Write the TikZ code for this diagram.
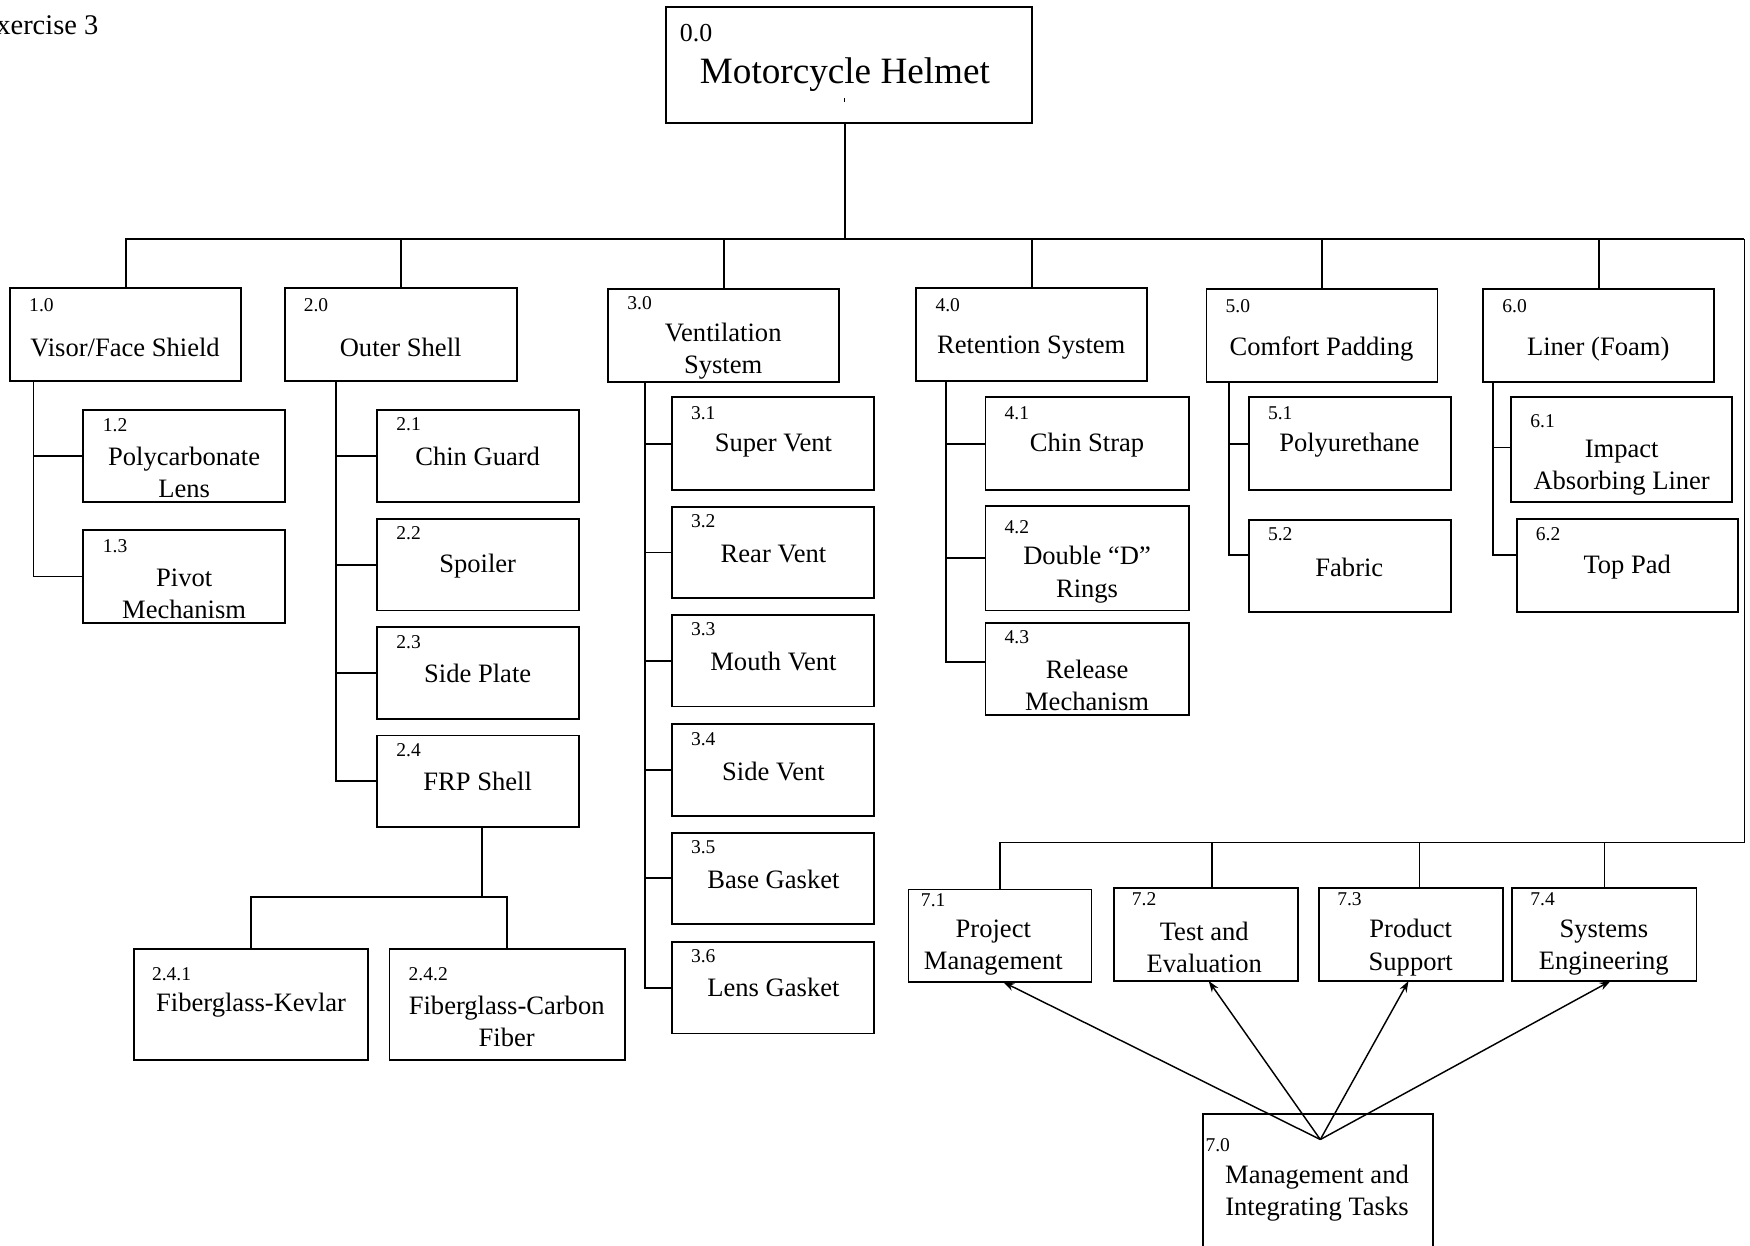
\documentclass[tikz,border=0pt]{standalone}
\usepackage{fontspec}
\setmainfont{Liberation Serif}
\usetikzlibrary{arrows.meta}
\tikzset{
  wb/.style={draw, line width=1.7pt, inner sep=0pt, outer sep=0pt},
  tx/.style={inner sep=0pt, align=center, yshift=-2pt, font=\fontsize{23.8}{29}\selectfont},
  nm/.style={inner sep=0pt, anchor=west, font=\fontsize{17.5}{20}\selectfont},
  ln/.style={line width=1.7pt},
  thinln/.style={line width=1.3pt},
  arr/.style={line width=1.3pt, -{Stealth[length=10pt,width=7pt]}},
}
\newcommand\bx[5]{\node[wb,minimum width={(#4-#2)*1pt},minimum height={(#5-#3)*1pt}] (#1) at ({(#2+#4)/2},{(#3+#5)/2}) {};}
\begin{document}
\begin{tikzpicture}[x=1pt,y=-1pt]
\useasboundingbox (0,0) rectangle (1568,1116);
\node[inner sep=0pt, anchor=west, font=\fontsize{25.5}{30}\selectfont] (ex) at (-19,23) {Exercise 3};
% boxes
\bx{b00}{597}{6}{925}{110}
\bx{b10}{9}{258}{216}{341}
\bx{b20}{255}{258}{463}{341}
\bx{b30}{545}{259}{752}{342}
\bx{b40}{821}{258}{1028}{341}
\bx{b50}{1081}{259}{1288}{342}
\bx{b60}{1329}{259}{1536}{342}
\bx{b12}{74}{367}{255}{450}
\bx{b13}{74}{475}{255}{558}
\bx{b21}{338}{367}{519}{450}
\bx{b22}{338}{465}{519}{547}
\bx{b23}{338}{562}{519}{644}
\bx{b24}{338}{659}{519}{741}
\bx{b241}{120}{850}{330}{950}
\bx{b242}{349}{850}{560}{950}
\bx{b31}{602}{356}{783}{439}
\bx{b32}{602}{454}{783}{536}
\bx{b33}{602}{551}{783}{633}
\bx{b34}{602}{649}{783}{731}
\bx{b35}{602}{746}{783}{828}
\bx{b36}{602}{844}{783}{926}
\bx{b41}{883}{356}{1065}{439}
\bx{b42}{883}{453}{1065}{547}
\bx{b43}{883}{558}{1065}{641}
\bx{b51}{1119}{356}{1300}{439}
\bx{b52}{1119}{466}{1300}{548}
\bx{b61}{1354}{356}{1552}{450}
\bx{b62}{1359}{465}{1557}{548}
\bx{b71}{814}{797}{978}{880}
\bx{b72}{998}{796}{1163}{879}
\bx{b73}{1182}{796}{1347}{879}
\bx{b74}{1355}{796}{1520}{879}
\bx{b70}{1078}{998}{1284}{1124}
% numbers
\node[nm, font=\fontsize{23.2}{26}\selectfont] (n00) at (609,30) {0.0};
\node[nm] (n10) at (26,273) {1.0};
\node[nm] (n20) at (272,273) {2.0};
\node[nm] (n30) at (562,272) {3.0};
\node[nm] (n40) at (838,273) {4.0};
\node[nm] (n50) at (1098,274) {5.0};
\node[nm] (n60) at (1346,274) {6.0};
\node[nm] (n12) at (92,381) {1.2};
\node[nm] (n13) at (92,489) {1.3};
\node[nm] (n21) at (355,380) {2.1};
\node[nm] (n22) at (355,478) {2.2};
\node[nm] (n23) at (355,575) {2.3};
\node[nm] (n24) at (355,672) {2.4};
\node[nm] (n241) at (136,873) {2.4.1};
\node[nm] (n242) at (366,873) {2.4.2};
\node[nm] (n31) at (619,370) {3.1};
\node[nm] (n32) at (619,467) {3.2};
\node[nm] (n33) at (619,564) {3.3};
\node[nm] (n34) at (619,662) {3.4};
\node[nm] (n35) at (619,759) {3.5};
\node[nm] (n36) at (619,857) {3.6};
\node[nm] (n41) at (900,370) {4.1};
\node[nm] (n42) at (900,472) {4.2};
\node[nm] (n43) at (900,571) {4.3};
\node[nm] (n51) at (1136,370) {5.1};
\node[nm] (n52) at (1136,479) {5.2};
\node[nm] (n61) at (1371,377) {6.1};
\node[nm] (n62) at (1376,479) {6.2};
\node[nm] (n71) at (825,807) {7.1};
\node[nm] (n72) at (1014,806) {7.2};
\node[nm] (n73) at (1198,806) {7.3};
\node[nm] (n74) at (1371,806) {7.4};
\node[nm] (n70) at (1080,1026) {7.0};
% texts
\node[tx, font=\fontsize{33.3}{40}\selectfont] (t00) at (757,65) {Motorcycle Helmet};
\node[tx] (t10) at (112,309) {Visor/Face Shield};
\node[tx] (t20) at (359,309) {Outer Shell};
\node[tx] (t30) at (648,312.5) {Ventilation\\System};
\node[tx] (t40) at (924,309) {Retention System};
\node[tx] (t50) at (1184,311) {Comfort Padding};
\node[tx] (t60) at (1432,311) {Liner (Foam)};
\node[tx] (t12) at (165,421.5) {Polycarbonate\\Lens};
\node[tx] (t13) at (165,530) {Pivot\\Mechanism};
\node[tx] (t21) at (428,407) {Chin Guard};
\node[tx] (t22) at (428,505) {Spoiler};
\node[tx] (t23) at (428,601) {Side Plate};
\node[tx] (t24) at (428,698) {FRP Shell};
\node[tx] (t241) at (225,899) {Fiberglass-Kevlar};
\node[tx] (t242) at (454,913) {Fiberglass-Carbon\\Fiber};
\node[tx] (t31) at (693,397) {Super Vent};
\node[tx] (t32) at (693,494) {Rear Vent};
\node[tx] (t33) at (693,591) {Mouth Vent};
\node[tx] (t34) at (693,689) {Side Vent};
\node[tx] (t35) at (693,786) {Base Gasket};
\node[tx] (t36) at (693,883) {Lens Gasket};
\node[tx] (t41) at (974,397) {Chin Strap};
\node[tx] (t42) at (974,513) {Double “D”\\Rings};
\node[tx] (t43) at (974,612) {Release\\Mechanism};
\node[tx] (t51) at (1209,397) {Polyurethane};
\node[tx] (t52) at (1209,506) {Fabric};
\node[tx] (t61) at (1453,417) {Impact\\Absorbing Liner};
\node[tx] (t62) at (1458,506) {Top Pad};
\node[tx] (t71) at (890,847) {Project\\Management};
\node[tx] (t72) at (1079,847) {Test and\\Evaluation};
\node[tx] (t73) at (1264,847) {Product\\Support};
\node[tx] (t74) at (1437,847) {Systems\\Engineering};
\node[tx] (t70) at (1180,1067) {Management and\\Integrating Tasks};
% tiny mark in top box
\coordinate (mk) at (757,88);
\draw[line width=0.8pt] (mk) -- ++(0,3);
% main bus
\coordinate (bus) at (757,214);
\coordinate (busR) at (1563,214);
\coordinate (r7) at (1563,755);
\draw[ln] ([xshift=-4pt]b00.south) -- (bus);
\draw[ln] (b10.north) |- (busR);
\draw[thinln] (busR) -- (r7);
\foreach \b in {b20,b30,b40,b50,b60} \draw[ln] (\b.north) -- (\b.north |- bus);
% level 2 connectors
\coordinate (v1) at ([xshift=21pt]b10.south west);
\draw[ln] (v1) |- (b13.west);
\draw[ln] (b12.west) -- (b12.west -| v1);
\coordinate (v2) at ([xshift=46pt]b20.south west);
\draw[ln] (v2) |- (b24.west);
\foreach \b in {b21,b22,b23} \draw[ln] (\b.west) -- (\b.west -| v2);
\coordinate (v3) at ([xshift=33pt]b30.south west);
\draw[ln] (v3) |- (b36.west);
\foreach \b in {b31,b32,b33,b34,b35} \draw[ln] (\b.west) -- (\b.west -| v3);
\coordinate (v4) at ([xshift=27pt]b40.south west);
\draw[ln] (v4) |- ([yshift=6.5pt]b43.west);
\foreach \b in {b41,b42} \draw[ln] (\b.west) -- (\b.west -| v4);
\coordinate (v5) at ([xshift=20pt]b50.south west);
\draw[ln] (v5) |- ([yshift=10pt]b52.west);
\draw[ln] (b51.west) -- (b51.west -| v5);
\coordinate (v6) at ([xshift=9pt]b60.south west);
\draw[ln] (v6) |- ([yshift=9.5pt]b62.west);
\draw[ln] ([yshift=2pt]b61.west) -- ([yshift=2pt]b61.west -| v6);
% 2.4 children
\coordinate (j24) at (432,804);
\draw[ln] ([xshift=3.5pt]b24.south) -- (j24);
\draw[ln] (b241.north) |- (j24) -| (b242.north);
% 7.x bus
\draw[thinln] (b71.north) |- (r7);
\draw[thinln] ([xshift=5.5pt]b72.north) -- ([xshift=5.5pt]b72.north |- r7);
\draw[thinln] ([xshift=7.5pt]b73.north) -- ([xshift=7.5pt]b73.north |- r7);
\draw[thinln] (b74.north) -- (b74.north |- r7);
% arrows
\coordinate (src) at (1183,1021);
\draw[arr] (src) -- ([xshift=3pt]b71.south);
\draw[arr] (src) -- ([xshift=2.5pt]b72.south);
\draw[arr] (src) -- ([xshift=-2.5pt]b73.south);
\draw[arr] (src) -- ([xshift=5.5pt]b74.south);
\end{tikzpicture}
\end{document}
